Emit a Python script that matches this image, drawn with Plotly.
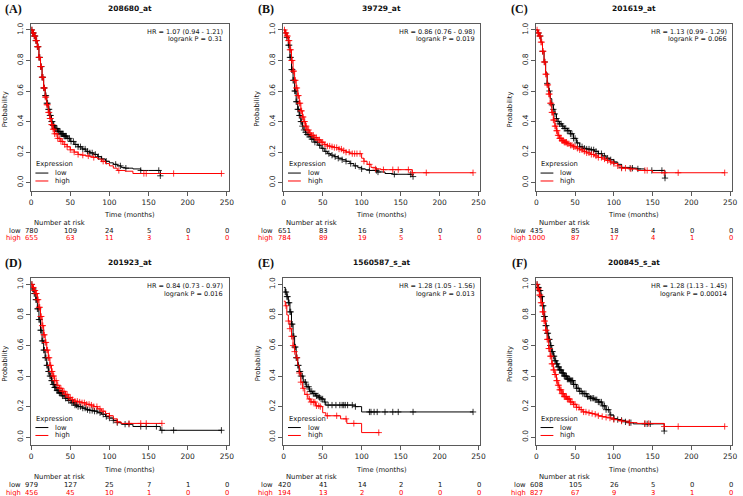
import numpy as np
import plotly.graph_objects as go

W, H = 743, 496

# ---------------- data ----------------
risk_times = [0, 50, 100, 150, 200, 250]
x_ticks = [0, 50, 100, 150, 200, 250]
y_ticks = [0.0, 0.2, 0.4, 0.6, 0.8, 1.0]
y_tick_labels = ["0.0", "0.2", "0.4", "0.6", "0.8", "1.0"]

panel_labels = ["(A)", "(B)", "(C)", "(D)", "(E)", "(F)"]
probe_names = ["208680_at", "39729_at", "201619_at", "201923_at", "1560587_s_at", "200845_s_at"]
hr_texts = ["HR = 1.07 (0.94 - 1.21)", "HR = 0.86 (0.76 - 0.98)", "HR = 1.13 (0.99 - 1.29)",
            "HR = 0.84 (0.73 - 0.97)", "HR = 1.28 (1.05 - 1.56)", "HR = 1.28 (1.13 - 1.45)"]
logrank_texts = ["logrank P = 0.31", "logrank P = 0.019", "logrank P = 0.066",
                 "logrank P = 0.016", "logrank P = 0.013", "logrank P = 0.00014"]

risk_low_A = [780, 109, 24, 5, 0, 0]
risk_high_A = [655, 63, 11, 3, 1, 0]
risk_low_B = [651, 83, 16, 3, 0, 0]
risk_high_B = [784, 89, 19, 5, 1, 0]
risk_low_C = [435, 85, 18, 4, 0, 0]
risk_high_C = [1000, 87, 17, 4, 1, 0]
risk_low_D = [979, 127, 25, 7, 1, 0]
risk_high_D = [456, 45, 10, 1, 0, 0]
risk_low_E = [420, 41, 14, 2, 1, 0]
risk_high_E = [194, 13, 2, 0, 0, 0]
risk_low_F = [608, 105, 26, 5, 0, 0]
risk_high_F = [827, 67, 9, 3, 1, 0]

# Panel A
A_low_t = [0, 2, 4, 6, 8, 10, 12, 14, 16, 18, 20, 22, 24, 26, 28, 30, 34, 38, 42, 46, 50, 55, 60, 65, 70, 75, 80, 85, 90, 95, 100, 105, 110, 115, 120, 130, 140, 150, 163, 165]
A_low_s = [1.0, 0.98, 0.96, 0.93, 0.89, 0.82, 0.76, 0.69, 0.62, 0.57, 0.52, 0.48, 0.44, 0.40, 0.375, 0.355, 0.335, 0.32, 0.305, 0.29, 0.27, 0.25, 0.235, 0.22, 0.205, 0.195, 0.185, 0.17, 0.155, 0.14, 0.13, 0.12, 0.11, 0.10, 0.095, 0.09, 0.08, 0.08, 0.08, 0.045]
A_high_t = [0, 2, 4, 6, 8, 10, 12, 14, 16, 18, 20, 22, 24, 26, 28, 30, 34, 38, 42, 46, 50, 55, 60, 65, 70, 75, 80, 85, 90, 95, 100, 105, 110, 120, 130, 243]
A_high_s = [1.0, 0.98, 0.96, 0.93, 0.89, 0.82, 0.76, 0.69, 0.62, 0.56, 0.51, 0.46, 0.42, 0.38, 0.35, 0.32, 0.29, 0.27, 0.25, 0.235, 0.215, 0.2, 0.185, 0.18, 0.175, 0.17, 0.165, 0.155, 0.14, 0.125, 0.11, 0.095, 0.08, 0.075, 0.06, 0.06]
A_low_cens = [1, 2, 3, 4, 5, 6, 7, 8, 9, 10, 11, 12, 13, 14, 15, 16, 17, 18, 19, 20, 21, 22, 23, 24, 25, 26, 27, 28, 29, 30, 31, 32, 33, 34, 35, 36, 37, 38, 39, 40, 41, 42, 43, 44, 45, 47, 49, 51, 54, 57, 60, 63, 66, 69, 72, 75, 78, 82, 86, 90, 96, 108, 114, 121, 140, 163, 165]
A_high_cens = [1, 2, 3, 4, 5, 6, 7, 8, 9, 10, 11, 12, 13, 14, 15, 16, 17, 18, 19, 20, 21, 22, 23, 24, 25, 26, 27, 28, 29, 30, 32, 34, 36, 38, 40, 43, 46, 50, 55, 60, 66, 73, 80, 92, 112, 144, 147, 182, 243]

# Panel B
B_low_t = [0, 2, 4, 6, 8, 10, 12, 14, 16, 18, 20, 22, 24, 26, 28, 30, 33, 36, 40, 44, 48, 52, 56, 60, 65, 70, 75, 80, 85, 90, 95, 100, 105, 110, 120, 130, 140, 164, 165]
B_low_s = [1.0, 0.98, 0.95, 0.9, 0.82, 0.74, 0.67, 0.6, 0.53, 0.48, 0.44, 0.4, 0.37, 0.345, 0.33, 0.315, 0.3, 0.285, 0.265, 0.245, 0.225, 0.205, 0.19, 0.18, 0.17, 0.16, 0.15, 0.14, 0.125, 0.11, 0.1, 0.09, 0.085, 0.08, 0.07, 0.06, 0.055, 0.055, 0.04]
B_high_t = [0, 2, 4, 6, 8, 10, 12, 14, 16, 18, 20, 22, 24, 26, 28, 30, 33, 36, 40, 44, 48, 52, 56, 60, 65, 70, 75, 80, 85, 90, 95, 100, 103, 107, 112, 118, 125, 135, 165, 243]
B_high_s = [1.0, 0.98, 0.96, 0.93, 0.87, 0.80, 0.73, 0.67, 0.62, 0.57, 0.52, 0.47, 0.43, 0.40, 0.37, 0.345, 0.325, 0.31, 0.295, 0.28, 0.265, 0.25, 0.24, 0.235, 0.23, 0.22, 0.21, 0.2, 0.19, 0.19, 0.19, 0.16, 0.14, 0.12, 0.1, 0.09, 0.085, 0.085, 0.065, 0.065]
B_low_cens = [2, 4, 6, 7, 8, 9, 10, 11, 12, 13, 14, 15, 16, 17, 18, 19, 20, 21, 22, 23, 24, 26, 28, 30, 32, 34, 36, 38, 40, 43, 46, 50, 54, 58, 62, 66, 70, 75, 80, 86, 92, 100, 110, 119, 121, 142, 163, 166]
B_high_cens = [1, 2, 3, 4, 5, 6, 7, 8, 9, 10, 11, 12, 13, 14, 15, 16, 17, 18, 19, 20, 21, 22, 23, 24, 25, 26, 27, 28, 29, 30, 32, 34, 36, 38, 40, 42, 44, 46, 48, 50, 53, 56, 59, 62, 65, 68, 71, 74, 77, 80, 84, 88, 91, 94, 98, 103, 110, 118, 128, 140, 147, 160, 165, 183, 243]

# Panel C
C_low_t = [0, 2, 4, 6, 8, 10, 12, 14, 16, 18, 20, 22, 24, 26, 28, 30, 33, 36, 40, 44, 48, 52, 56, 60, 65, 70, 75, 80, 85, 90, 95, 100, 105, 110, 120, 130, 140, 165, 166]
C_low_s = [1.0, 0.98, 0.96, 0.92, 0.86, 0.79, 0.72, 0.65, 0.6, 0.55, 0.51, 0.48, 0.45, 0.42, 0.40, 0.385, 0.37, 0.355, 0.34, 0.32, 0.29, 0.26, 0.235, 0.225, 0.22, 0.215, 0.205, 0.19, 0.175, 0.16, 0.15, 0.135, 0.12, 0.10, 0.095, 0.09, 0.08, 0.08, 0.03]
C_high_t = [0, 2, 4, 6, 8, 10, 12, 14, 16, 18, 20, 22, 24, 26, 28, 30, 33, 36, 40, 44, 48, 52, 56, 60, 65, 70, 75, 80, 85, 90, 95, 100, 105, 110, 120, 130, 150, 243]
C_high_s = [1.0, 0.98, 0.96, 0.92, 0.86, 0.79, 0.71, 0.64, 0.58, 0.52, 0.46, 0.41, 0.37, 0.34, 0.31, 0.29, 0.275, 0.265, 0.255, 0.245, 0.235, 0.225, 0.215, 0.205, 0.195, 0.185, 0.175, 0.165, 0.155, 0.145, 0.135, 0.125, 0.11, 0.095, 0.09, 0.08, 0.065, 0.065]
C_low_cens = [3, 5, 8, 11, 14, 17, 20, 22, 24, 26, 28, 30, 32, 34, 36, 38, 40, 42, 44, 46, 48, 50, 53, 56, 59, 62, 65, 68, 71, 74, 77, 80, 84, 88, 92, 96, 100, 110, 121, 124, 131, 149, 162, 166]
C_high_cens = [1, 2, 3, 4, 5, 6, 7, 8, 9, 10, 11, 12, 13, 14, 15, 16, 17, 18, 19, 20, 21, 22, 23, 24, 25, 26, 27, 28, 29, 30, 31, 32, 33, 34, 35, 36, 37, 38, 39, 40, 42, 44, 46, 48, 50, 53, 56, 59, 62, 65, 68, 71, 74, 77, 80, 84, 88, 92, 96, 100, 105, 110, 115, 122, 140, 143, 165, 183, 243]

# Panel D
D_low_t = [0, 2, 4, 6, 8, 10, 12, 14, 16, 18, 20, 22, 24, 26, 28, 30, 33, 36, 40, 44, 48, 52, 56, 60, 65, 70, 75, 80, 85, 90, 95, 100, 105, 110, 115, 120, 130, 163, 165, 243]
D_low_s = [1.0, 0.97, 0.94, 0.9, 0.84, 0.77, 0.7, 0.63, 0.57, 0.52, 0.47, 0.43, 0.4, 0.37, 0.345, 0.325, 0.305, 0.29, 0.27, 0.255, 0.24, 0.225, 0.21, 0.2, 0.19, 0.18, 0.175, 0.17, 0.16, 0.15, 0.135, 0.125, 0.11, 0.095, 0.085, 0.085, 0.07, 0.07, 0.045, 0.045]
D_high_t = [0, 2, 4, 6, 8, 10, 12, 14, 16, 18, 20, 22, 24, 26, 28, 30, 33, 36, 40, 44, 48, 52, 56, 60, 65, 70, 75, 80, 85, 90, 95, 100, 105, 110, 115, 167]
D_high_s = [1.0, 0.98, 0.96, 0.94, 0.9, 0.85, 0.79, 0.73, 0.67, 0.62, 0.57, 0.52, 0.47, 0.43, 0.40, 0.37, 0.34, 0.32, 0.30, 0.28, 0.26, 0.245, 0.235, 0.23, 0.225, 0.215, 0.21, 0.2, 0.185, 0.17, 0.155, 0.14, 0.12, 0.1, 0.09, 0.09]
D_low_cens = [1, 2, 3, 4, 5, 6, 7, 8, 9, 10, 11, 12, 13, 14, 15, 16, 17, 18, 19, 20, 21, 22, 23, 24, 25, 26, 27, 28, 29, 30, 31, 32, 33, 34, 35, 36, 37, 38, 39, 40, 42, 44, 46, 48, 50, 52, 54, 56, 58, 60, 63, 66, 69, 72, 75, 78, 81, 84, 88, 92, 96, 100, 105, 110, 120, 125, 140, 147, 160, 167, 182, 243]
D_high_cens = [1, 2, 3, 4, 5, 6, 7, 8, 9, 10, 11, 12, 13, 14, 15, 16, 17, 18, 19, 20, 21, 22, 23, 24, 25, 26, 27, 28, 29, 30, 32, 34, 36, 38, 40, 42, 44, 46, 48, 50, 53, 56, 59, 62, 65, 68, 71, 74, 77, 80, 84, 88, 92, 100, 110, 125, 140, 147, 167]

# Panel E
E_low_t = [0, 2, 4, 6, 8, 10, 12, 14, 16, 18, 20, 22, 25, 29, 33, 37, 41, 45, 48, 52, 54, 92, 100, 243]
E_low_s = [0.98, 0.95, 0.92, 0.88, 0.82, 0.74, 0.66, 0.59, 0.52, 0.47, 0.43, 0.40, 0.36, 0.33, 0.30, 0.285, 0.27, 0.26, 0.25, 0.23, 0.21, 0.2, 0.165, 0.165]
E_high_t = [0, 2, 4, 6, 8, 10, 12, 14, 16, 18, 20, 22, 24, 27, 31, 35, 41, 46, 50, 54, 73, 81, 100, 123]
E_high_s = [0.89, 0.86, 0.80, 0.76, 0.71, 0.66, 0.6, 0.56, 0.52, 0.47, 0.42, 0.36, 0.32, 0.28, 0.25, 0.23, 0.205, 0.2, 0.16, 0.14, 0.12, 0.09, 0.03, 0.03]
E_low_cens = [2, 3, 4, 5, 6, 7, 8, 9, 10, 11, 12, 13, 14, 15, 16, 17, 18, 19, 20, 21, 22, 24, 26, 28, 30, 32, 34, 36, 38, 40, 42, 44, 46, 48, 50, 53, 57, 62, 67, 72, 75, 77, 79, 82, 88, 92, 110, 112, 116, 120, 130, 140, 147, 166, 243]
E_high_cens = [3, 6, 8, 10, 12, 14, 17, 20, 22, 25, 30, 33, 35, 38, 40, 42, 45, 47, 56, 68, 80, 90, 122]

# Panel F
F_low_t = [0, 2, 4, 6, 8, 10, 12, 14, 16, 18, 20, 22, 24, 26, 28, 30, 33, 36, 40, 44, 48, 52, 56, 60, 65, 70, 75, 80, 85, 90, 95, 100, 105, 110, 115, 120, 125, 164, 165]
F_low_s = [1.0, 0.98, 0.96, 0.92, 0.86, 0.79, 0.73, 0.68, 0.64, 0.6, 0.56, 0.53, 0.5, 0.48, 0.46, 0.44, 0.42, 0.40, 0.38, 0.37, 0.345, 0.32, 0.3, 0.285, 0.265, 0.255, 0.245, 0.23, 0.205, 0.18, 0.145, 0.12, 0.115, 0.11, 0.1, 0.095, 0.087, 0.087, 0.04]
F_high_t = [0, 2, 4, 6, 8, 10, 12, 14, 16, 18, 20, 22, 24, 26, 28, 30, 33, 36, 40, 44, 48, 52, 56, 60, 65, 70, 75, 80, 85, 90, 95, 100, 105, 110, 120, 130, 165, 243]
F_high_s = [1.0, 0.97, 0.93, 0.88, 0.82, 0.76, 0.70, 0.64, 0.58, 0.53, 0.48, 0.44, 0.41, 0.37, 0.34, 0.31, 0.285, 0.265, 0.25, 0.23, 0.215, 0.195, 0.18, 0.165, 0.16, 0.155, 0.15, 0.14, 0.135, 0.13, 0.125, 0.115, 0.11, 0.105, 0.095, 0.09, 0.07, 0.07]
F_low_cens = [1, 2, 3, 4, 5, 6, 7, 8, 9, 10, 11, 12, 13, 14, 15, 16, 17, 18, 19, 20, 21, 22, 23, 24, 25, 26, 27, 28, 29, 30, 31, 32, 33, 34, 35, 36, 37, 38, 39, 40, 41, 42, 43, 44, 45, 46, 47, 48, 50, 52, 54, 56, 58, 60, 62, 64, 66, 68, 70, 72, 74, 76, 78, 80, 82, 84, 86, 88, 90, 93, 96, 100, 105, 110, 115, 120, 122, 140, 143, 147, 165]
F_high_cens = [1, 2, 3, 4, 5, 6, 7, 8, 9, 10, 11, 12, 13, 14, 15, 16, 17, 18, 19, 20, 21, 22, 23, 24, 25, 26, 27, 28, 29, 30, 31, 32, 33, 34, 35, 36, 37, 38, 39, 40, 41, 42, 43, 44, 46, 48, 50, 52, 55, 58, 61, 64, 68, 72, 76, 80, 85, 90, 95, 100, 110, 120, 140, 145, 165, 183, 243]

panels = [
    (A_low_t, A_low_s, A_low_cens, A_high_t, A_high_s, A_high_cens, risk_low_A, risk_high_A),
    (B_low_t, B_low_s, B_low_cens, B_high_t, B_high_s, B_high_cens, risk_low_B, risk_high_B),
    (C_low_t, C_low_s, C_low_cens, C_high_t, C_high_s, C_high_cens, risk_low_C, risk_high_C),
    (D_low_t, D_low_s, D_low_cens, D_high_t, D_high_s, D_high_cens, risk_low_D, risk_high_D),
    (E_low_t, E_low_s, E_low_cens, E_high_t, E_high_s, E_high_cens, risk_low_E, risk_high_E),
    (F_low_t, F_low_s, F_low_cens, F_high_t, F_high_s, F_high_cens, risk_low_F, risk_high_F),
]

# ---------------- layout helpers ----------------
COLS = [(29, 229), (284, 483), (539, 737)]
ROWS = [(23, 190), (278, 445)]
FONT = "DejaVu Sans"
SERIF = "Liberation Serif"
BLACK = "#000000"
RED = "#ff0000"
FRAME = "#5a5a5a"


def px(xp):
    return xp / W


def py(yp):
    return 1 - yp / H


def step_at(t_knots, s_knots, times):
    idx = np.searchsorted(np.array(t_knots, float), np.array(times, float), side="right") - 1
    idx = np.clip(idx, 0, len(s_knots) - 1)
    return np.array(s_knots)[idx]


fig = go.Figure()
annotations = []
shapes = []
layout = {}

for i, (lt, ls, lc, ht, hs, hc, rl, rh) in enumerate(panels):
    r, c = divmod(i, 3)
    x0p, x1p = COLS[c]
    y0p, y1p = ROWS[r]
    k = "" if i == 0 else str(i + 1)
    xa, ya = "x" + k, "y" + k
    xname, yname = "xaxis" + k, "yaxis" + k

    layout[xname] = dict(
        domain=[px(x0p), px(x1p)], anchor=ya, range=[-0.5, 252.5],
        tickmode="array", tickvals=x_ticks, ticks="outside", ticklen=4, tickwidth=1,
        tickcolor=FRAME, showline=True, linecolor=FRAME, linewidth=1, mirror=True,
        showgrid=False, zeroline=False, tickfont=dict(family=FONT, size=7.5, color="#222"),
        fixedrange=True)
    layout[yname] = dict(
        domain=[py(y1p), py(y0p)], anchor=xa, range=[-0.052, 1.039],
        tickmode="array", tickvals=y_ticks, ticktext=y_tick_labels, tickangle=-90,
        ticks="outside", ticklen=4, tickwidth=1, tickcolor=FRAME,
        showline=True, linecolor=FRAME, linewidth=1, mirror=True,
        showgrid=False, zeroline=False, tickfont=dict(family=FONT, size=7.5, color="#222"),
        fixedrange=True)

    for (t, s, cens, col) in [(lt, ls, lc, BLACK), (ht, hs, hc, RED)]:
        fig.add_trace(go.Scatter(x=t, y=s, mode="lines", xaxis=xa, yaxis=ya,
                                 line=dict(shape="hv", color=col, width=1),
                                 showlegend=False, hoverinfo="skip"))
        fig.add_trace(go.Scatter(x=cens, y=step_at(t, s, cens), mode="markers",
                                 xaxis=xa, yaxis=ya,
                                 marker=dict(symbol="cross-thin", size=4.5,
                                             line=dict(width=0.8, color=col)),
                                 showlegend=False, hoverinfo="skip"))

    cx = (x0p + x1p) / 2
    # panel label & title
    annotations.append(dict(x=px(x0p - 17), y=py(y0p - 15), xref="paper", yref="paper",
                            text="<b>" + panel_labels[i] + "</b>", showarrow=False,
                            font=dict(family=SERIF, size=12, color="#111"),
                            xanchor="center", yanchor="middle"))
    annotations.append(dict(x=px(cx), y=py(y0p - 15.5), xref="paper", yref="paper",
                            text="<b>" + probe_names[i] + "</b>", showarrow=False,
                            font=dict(family=FONT, size=7.5, color="#111"),
                            xanchor="center", yanchor="middle"))
    # HR + logrank
    annotations.append(dict(x=248, y=0.987, xref=xa, yref=ya, text=hr_texts[i],
                            showarrow=False, xanchor="right", yanchor="middle",
                            font=dict(family=FONT, size=6.5, color="#111")))
    annotations.append(dict(x=248, y=0.94, xref=xa, yref=ya, text=logrank_texts[i],
                            showarrow=False, xanchor="right", yanchor="middle",
                            font=dict(family=FONT, size=6.5, color="#111")))
    # legend
    annotations.append(dict(x=4, y=0.122, xref=xa, yref=ya, text="Expression",
                            showarrow=False, xanchor="left", yanchor="middle",
                            font=dict(family=FONT, size=6.8, color="#111")))
    for lab, yy, col in [("low", 0.063, BLACK), ("high", 0.011, RED)]:
        shapes.append(dict(type="line", xref=xa, yref=ya, x0=5.5, x1=22, y0=yy, y1=yy,
                           line=dict(color=col, width=1)))
        annotations.append(dict(x=28.5, y=yy, xref=xa, yref=ya, text=lab,
                                showarrow=False, xanchor="left", yanchor="middle",
                                font=dict(family=FONT, size=6.8, color="#111")))
    # axis titles
    annotations.append(dict(x=px(x0p - 26), y=py((y0p + y1p) / 2 + 2), xref="paper", yref="paper",
                            text="Probability", textangle=-90, showarrow=False,
                            xanchor="center", yanchor="middle",
                            font=dict(family=FONT, size=6.8, color="#111")))
    annotations.append(dict(x=px(cx), y=py(y1p + 24.5), xref="paper", yref="paper",
                            text="Time (months)", showarrow=False,
                            xanchor="center", yanchor="middle",
                            font=dict(family=FONT, size=6.8, color="#111")))
    # number at risk table
    annotations.append(dict(x=px(x0p + 1), y=py(y1p + 32), xref="paper", yref="paper",
                            text="Number at risk", showarrow=False,
                            xanchor="left", yanchor="middle",
                            font=dict(family=FONT, size=6.8, color="#111")))
    for lab, vals, yoff, col in [("low", rl, 40, "#111"), ("high", rh, 47.7, RED)]:
        annotations.append(dict(x=px(x0p - 8), y=py(y1p + yoff), xref="paper", yref="paper",
                                text=lab, showarrow=False, xanchor="right", yanchor="middle",
                                font=dict(family=FONT, size=6.8, color=col)))
        for tt, v in zip(risk_times, vals):
            annotations.append(dict(x=tt + 0.6, y=py(y1p + yoff), xref=xa, yref="paper",
                                    text=str(v), showarrow=False, xanchor="center",
                                    yanchor="middle",
                                    font=dict(family=FONT, size=6.8, color=col)))

fig.update_layout(
    width=W, height=H, margin=dict(l=0, r=0, t=0, b=0),
    paper_bgcolor="white", plot_bgcolor="white",
    annotations=annotations, shapes=shapes, showlegend=False,
    **layout)

fig.write_html("out.html", config={"displayModeBar": False},
               post_script="document.body.style.margin='0';document.body.style.overflow='hidden';")
